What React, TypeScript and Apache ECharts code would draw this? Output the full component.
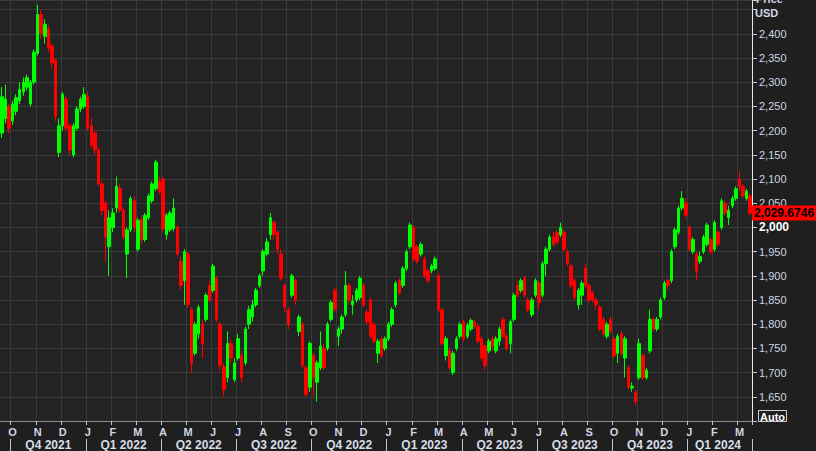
import React, { useEffect, useRef } from "react";
import * as echarts from "echarts";

// Months covered by the chart and number of candles drawn per month
const months = [
  "2021-09", "2021-10", "2021-11", "2021-12",
  "2022-01", "2022-02", "2022-03", "2022-04", "2022-05", "2022-06",
  "2022-07", "2022-08", "2022-09", "2022-10", "2022-11", "2022-12",
  "2023-01", "2023-02", "2023-03", "2023-04", "2023-05", "2023-06",
  "2023-07", "2023-08", "2023-09", "2023-10", "2023-11", "2023-12",
  "2024-01", "2024-02", "2024-03",
];
const candlesPerMonth = [
  3, 7, 7, 7, 7, 7, 7, 7, 7, 7, 7, 7, 7, 7, 7, 7,
  7, 7, 7, 7, 7, 7, 7, 7, 7, 7, 7, 7, 7, 7, 4,
];

const opens = [
  2195, 2225, 2250, 2220, 2240, 2262, 2280, 2290, 2255, 2300,
  2360, 2440, 2395, 2410, 2375, 2345, 2155, 2210, 2265, 2210,
  2150, 2205, 2245, 2250, 2270, 2210, 2195, 2160, 2090, 2050,
  1960, 2000, 2040, 2080, 2035, 1945, 1995, 2055, 1955, 2017,
  1975, 2020, 2055, 2080, 2095, 2100, 1985, 1995, 1998, 2000,
  1930, 1890, 1945, 1830, 1740, 1780, 1800, 1810, 1880, 1870,
  1895, 1800, 1712, 1690, 1760, 1685, 1730, 1735, 1720, 1800,
  1815, 1840, 1880, 1910, 1945, 1985, 2010, 1990, 1945, 1880,
  1830, 1860, 1890, 1785, 1800, 1710, 1670, 1735, 1680, 1710,
  1750, 1750, 1810, 1870, 1775, 1790, 1820, 1880, 1840, 1850,
  1855, 1880, 1825, 1850, 1800, 1740, 1770, 1750, 1770, 1800,
  1840, 1890, 1880, 1915, 1960, 2000, 1960, 1945, 1935, 1910,
  1910, 1915, 1900, 1830, 1735, 1745, 1700, 1750, 1775, 1805,
  1775, 1790, 1805, 1795, 1770, 1755, 1745, 1770, 1745, 1765,
  1810, 1775, 1760, 1810, 1880, 1870, 1895, 1850, 1820, 1860,
  1885, 1860, 1925, 1955, 1980, 1990, 1985, 1990, 1950, 1920,
  1890, 1840, 1860, 1915, 1880, 1865, 1850, 1835, 1810, 1775,
  1810, 1770, 1740, 1780, 1730, 1710, 1668, 1660, 1690, 1735,
  1690, 1745, 1810, 1790, 1815, 1855, 1890, 1890, 1960, 1990,
  2040, 2050, 2000, 1950, 1945, 1930, 1950, 1965, 1975, 1955,
  1990, 2000, 2050, 2020, 2045, 2060, 2100, 2085, 2060, 2065,
];
const closes = [
  2270, 2265, 2205, 2255, 2268, 2285, 2300, 2310, 2300, 2362,
  2440, 2400, 2420, 2370, 2340, 2230, 2210, 2275, 2205, 2160,
  2210, 2245, 2265, 2275, 2205, 2170, 2160, 2090, 2035, 1980,
  2020, 2030, 2085, 2035, 1980, 1995, 2060, 2000, 2015, 1975,
  2025, 2065, 2090, 2135, 2075, 1997, 2025, 2030, 2040, 1945,
  1880, 1950, 1840, 1720, 1800, 1835, 1760, 1860, 1850, 1920,
  1810, 1715, 1665, 1760, 1730, 1720, 1770, 1690, 1790, 1830,
  1840, 1870, 1900, 1950, 1970, 2020, 1985, 1955, 1895, 1835,
  1800, 1900, 1850, 1815, 1715, 1655, 1760, 1690, 1720, 1755,
  1710, 1800, 1845, 1830, 1790, 1815, 1880, 1850, 1848, 1870,
  1895, 1840, 1805, 1775, 1765, 1765, 1735, 1770, 1800, 1830,
  1885, 1865, 1915, 1950, 2005, 1935, 1930, 1965, 1900, 1890,
  1920, 1935, 1830, 1760, 1770, 1710, 1740, 1770, 1800, 1770,
  1798, 1808, 1795, 1765, 1730, 1715, 1765, 1755, 1770, 1790,
  1775, 1750, 1805, 1860, 1860, 1890, 1860, 1830, 1850, 1890,
  1845, 1925, 1955, 1980, 1965, 1970, 2000, 1955, 1925, 1880,
  1855, 1870, 1885, 1880, 1850, 1850, 1840, 1790, 1780, 1800,
  1785, 1735, 1775, 1740, 1770, 1670, 1672, 1640, 1760, 1690,
  1705, 1810, 1790, 1810, 1850, 1885, 1880, 1950, 1995, 2040,
  2060, 2025, 1955, 1975, 1910, 1940, 1980, 2005, 1950, 2010,
  1965, 2055, 2030, 2035, 2060, 2080, 2085, 2065, 2075, 2029.6746,
];
const highs = [
  2290, 2295, 2255, 2262, 2275, 2300, 2310, 2316, 2305, 2368,
  2460, 2450, 2430, 2418, 2380, 2350, 2225, 2280, 2272, 2215,
  2215, 2250, 2270, 2290, 2280, 2225, 2200, 2165, 2095, 2055,
  2035, 2040, 2105, 2090, 2040, 2000, 2065, 2065, 2020, 2025,
  2030, 2070, 2095, 2140, 2105, 2105, 2030, 2035, 2060, 2005,
  1940, 1955, 1950, 1835, 1805, 1840, 1810, 1865, 1890, 1925,
  1900, 1805, 1718, 1785, 1770, 1730, 1780, 1745, 1795, 1838,
  1850, 1875, 1905, 1955, 1978, 2030, 2015, 1995, 1955, 1885,
  1835, 1905, 1895, 1820, 1805, 1715, 1765, 1742, 1725, 1785,
  1760, 1805, 1850, 1875, 1795, 1820, 1910, 1885, 1860, 1875,
  1900, 1885, 1830, 1855, 1805, 1770, 1775, 1775, 1805, 1835,
  1890, 1895, 1920, 1955, 2010, 2005, 1965, 1970, 1940, 1915,
  1925, 1940, 1905, 1835, 1775, 1750, 1745, 1775, 1805, 1810,
  1803, 1812, 1810, 1800, 1775, 1760, 1770, 1775, 1775, 1795,
  1815, 1780, 1810, 1865, 1890, 1895, 1900, 1855, 1855, 1895,
  1890, 1930, 1960, 1985, 1990, 1995, 2010, 1995, 1955, 1925,
  1895, 1875, 1890, 1925, 1885, 1870, 1855, 1840, 1815, 1805,
  1815, 1775, 1780, 1785, 1775, 1715, 1680, 1665, 1770, 1740,
  1710, 1830, 1815, 1815, 1855, 1890, 1895, 1955, 2000, 2045,
  2075, 2060, 2005, 1980, 1950, 1950, 1985, 2010, 1980, 2015,
  1995, 2060, 2055, 2045, 2065, 2085, 2117, 2090, 2080, 2070,
];
const lows = [
  2185, 2215, 2195, 2212, 2232, 2255, 2272, 2283, 2250, 2295,
  2355, 2390, 2380, 2362, 2330, 2220, 2145, 2200, 2200, 2150,
  2145, 2200, 2238, 2245, 2200, 2165, 2150, 2085, 2025, 1930,
  1900, 1990, 2030, 2030, 1975, 1895, 1990, 1990, 1950, 1965,
  1970, 2015, 2050, 2075, 2070, 1990, 1975, 1990, 1992, 1940,
  1870, 1840, 1835, 1700, 1735, 1770, 1730, 1805, 1845, 1865,
  1805, 1705, 1650, 1680, 1720, 1680, 1725, 1680, 1715, 1790,
  1805, 1835, 1875, 1900, 1940, 1975, 1975, 1945, 1890, 1825,
  1790, 1855, 1840, 1775, 1710, 1650, 1660, 1650, 1640, 1705,
  1705, 1745, 1805, 1825, 1755, 1780, 1815, 1840, 1820, 1845,
  1850, 1835, 1800, 1770, 1760, 1720, 1730, 1745, 1765, 1795,
  1835, 1860, 1875, 1910, 1955, 1930, 1925, 1940, 1895, 1885,
  1905, 1910, 1825, 1755, 1725, 1705, 1695, 1745, 1770, 1765,
  1770, 1785, 1790, 1760, 1725, 1705, 1740, 1745, 1740, 1755,
  1770, 1745, 1740, 1805, 1855, 1865, 1855, 1825, 1815, 1855,
  1830, 1855, 1900, 1950, 1960, 1965, 1980, 1950, 1920, 1875,
  1850, 1830, 1840, 1875, 1845, 1845, 1830, 1785, 1775, 1770,
  1780, 1730, 1720, 1735, 1690, 1665, 1660, 1632, 1685, 1685,
  1685, 1740, 1785, 1785, 1810, 1850, 1870, 1885, 1955, 1985,
  2035, 2020, 1950, 1945, 1890, 1925, 1945, 1960, 1945, 1950,
  1960, 1995, 2025, 2005, 2040, 2055, 2075, 2060, 2055, 2025,
];

const lastPrice = 2029.6746;
const lastPriceText = "2,029.6746";
const monthLetters = ["J", "F", "M", "A", "M", "J", "J", "A", "S", "O", "N", "D"];
const hiddenYLabels = [1600, 2450];

const FONT = "'Liberation Sans', Arial, sans-serif";

export default function App() {
  const ref = useRef<HTMLDivElement>(null);

  useEffect(() => {
    if (!ref.current) return;
    const chart = echarts.init(ref.current, undefined, { renderer: "svg" });

    const categories: string[] = [];
    const monthStarts = new Set<number>();
    const quarterStarts = new Set<number>();
    const quarterLabelIdx = new Set<number>();
    let idx = 0;
    const quarterInfo: { start: number; count: number }[] = [];
    months.forEach((m, j) => {
      const mon = parseInt(m.slice(5), 10);
      if (j > 0) monthStarts.add(idx);
      if (j > 0 && (mon - 1) % 3 === 0) {
        quarterStarts.add(idx);
        quarterInfo.push({ start: idx, count: 0 });
      }
      if (quarterInfo.length) quarterInfo[quarterInfo.length - 1].count += candlesPerMonth[j];
      for (let k = 0; k < candlesPerMonth[j]; k++) {
        categories.push(`${m}-${k + 1}`);
        idx++;
      }
    });
    quarterInfo.forEach((q) => quarterLabelIdx.add(q.start + Math.floor((q.count - 1) / 2)));

    const data = opens.map((o, i) => [o, closes[i], lows[i], highs[i]]);

    const labelColor = "#cfd6e2";

    chart.setOption({
      animation: false,
      backgroundColor: "#1f1f1f",
      textStyle: { fontFamily: FONT },
      grid: {
        left: 0,
        right: 64,
        top: 0,
        bottom: 29,
        show: true,
        backgroundColor: "#232323",
        borderWidth: 0,
      },
      xAxis: [
        {
          type: "category",
          data: categories,
          boundaryGap: true,
          axisLine: { show: true, lineStyle: { color: "#8a8a8a", width: 1 } },
          axisTick: {
            show: true,
            interval: (i: number) => monthStarts.has(i),
            length: 4,
            lineStyle: { color: "#c0c6d0" },
          },
          axisLabel: {
            interval: (i: number) => monthStarts.has(i),
            formatter: (v: string) => monthLetters[parseInt(v.slice(5, 7), 10) - 1],
            color: labelColor,
            fontSize: 11,
            fontWeight: "bold",
            fontFamily: FONT,
            margin: 5,
          },
          splitLine: {
            show: true,
            interval: (i: number) => monthStarts.has(i),
            lineStyle: { color: "#3a3a3a", width: 1 },
          },
        },
        {
          type: "category",
          data: categories,
          position: "bottom",
          offset: 18,
          boundaryGap: true,
          axisLine: { show: false },
          axisTick: {
            show: true,
            interval: (i: number) => quarterStarts.has(i),
            length: 12,
            lineStyle: { color: "#c0c6d0" },
          },
          axisLabel: {
            interval: (i: number) => quarterLabelIdx.has(i),
            formatter: (v: string) => {
              const y = v.slice(0, 4);
              const mo = parseInt(v.slice(5, 7), 10);
              return `Q${Math.floor((mo - 1) / 3) + 1} ${y}`;
            },
            color: "#d8dde8",
            fontSize: 12,
            fontWeight: "bold",
            fontFamily: FONT,
            margin: 0,
          },
          splitLine: { show: false },
        },
      ],
      yAxis: {
        type: "value",
        position: "right",
        min: 1600,
        max: 2470,
        interval: 50,
        axisLine: { show: true, lineStyle: { color: "#e8e8e8", width: 1 } },
        axisTick: { show: true, length: 5, lineStyle: { color: "#c8ccd4" } },
        axisLabel: {
          margin: 7,
          formatter: (v: number) => {
            if (v % 50 !== 0 || hiddenYLabels.includes(v)) return "";
            const s = v.toLocaleString("en-US");
            return v === 2000 ? `{b|${s}}` : `{n|${s}}`;
          },
          rich: {
            n: { color: labelColor, fontSize: 11, fontFamily: FONT },
            b: { color: "#ffffff", fontSize: 12, fontWeight: "bold", fontFamily: FONT },
          },
        },
        splitLine: { show: true, lineStyle: { color: "#3a3a3a", width: 1 } },
      },
      series: [
        {
          type: "candlestick",
          xAxisIndex: 0,
          yAxisIndex: 0,
          data,
          barWidth: 3,
          itemStyle: {
            color: "#00ff00",
            color0: "#ff0000",
            borderColor: "#00ff00",
            borderColor0: "#ff0000",
            borderWidth: 1,
          },
          markLine: {
            silent: true,
            symbol: "none",
            lineStyle: { color: "transparent", width: 0 },
            label: {
              show: true,
              position: "end",
              distance: 0,
              formatter: lastPriceText,
              backgroundColor: "#ff0000",
              color: "#000000",
              fontWeight: "bold",
              fontSize: 12,
              fontFamily: FONT,
              padding: [2, 3, 1, 2],
            },
            data: [{ yAxis: lastPrice }],
          },
        },
      ],
      graphic: [
        {
          type: "text",
          left: 756,
          top: -7,
          style: { text: "Price", fill: "#d0d8e8", font: `bold 11px ${FONT}` },
        },
        {
          type: "text",
          left: 755,
          top: 7,
          style: { text: "USD", fill: "#d0d8e8", font: `bold 11px ${FONT}` },
        },
        {
          type: "rect",
          shape: { x: 758.5, y: 410.5, width: 28, height: 11 },
          style: { fill: "none", stroke: "#cfcfcf", lineWidth: 1 },
        },
        {
          type: "text",
          x: 772.5,
          y: 416.5,
          style: {
            text: "Auto",
            fill: "#ffffff",
            font: `bold 11px ${FONT}`,
            align: "center",
            verticalAlign: "middle",
          },
        },
      ],
    });

    return () => chart.dispose();
  }, []);

  return (
    <div
      ref={ref}
      style={{ position: "fixed", left: 0, top: 0, width: 816, height: 451 }}
    />
  );
}
